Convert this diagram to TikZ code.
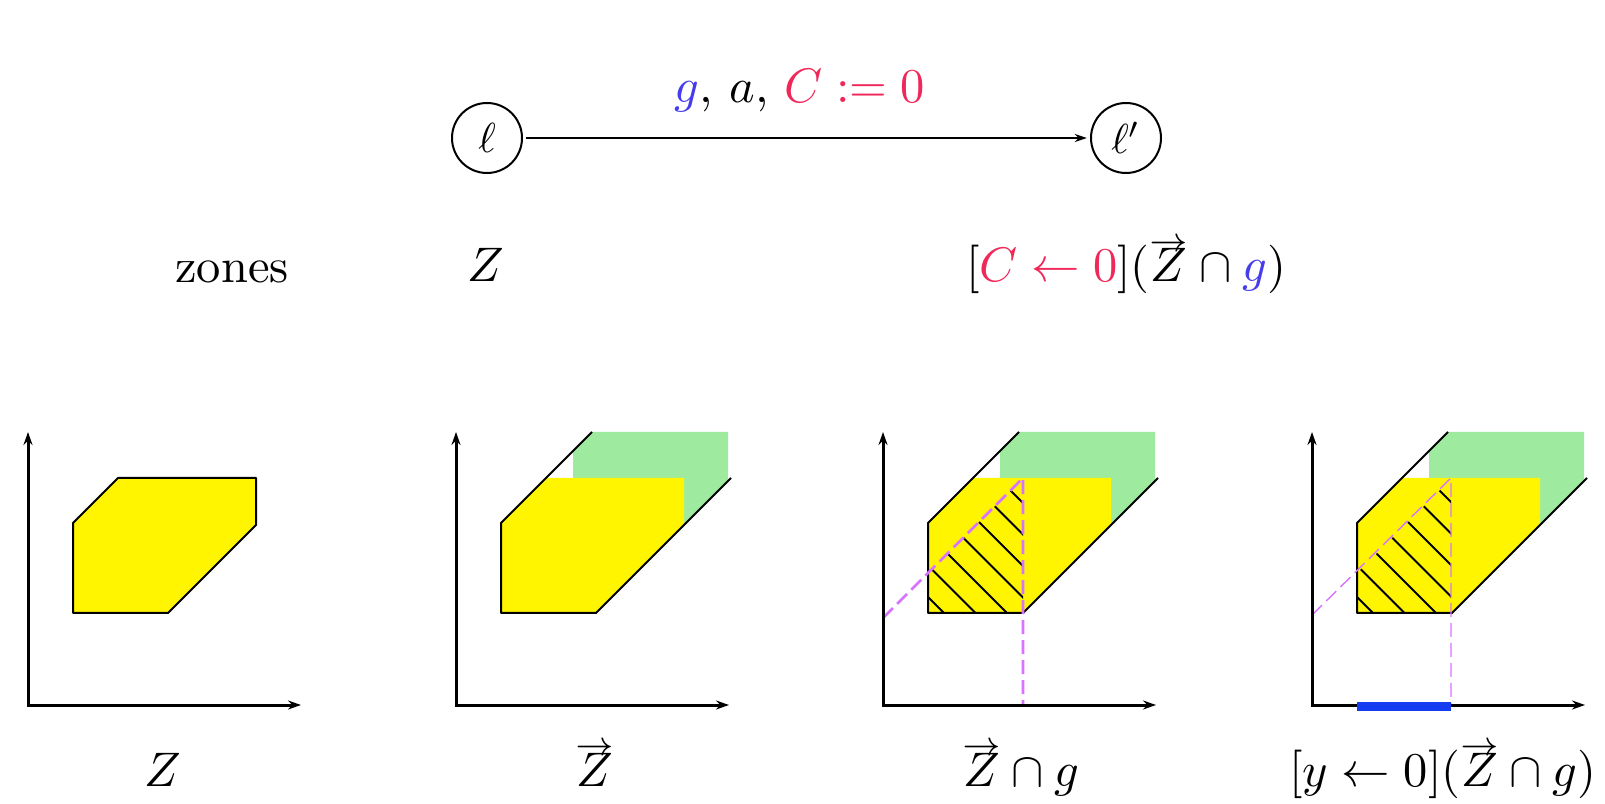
\RequirePackage{fix-cm}
\documentclass[tikz,border=0pt]{standalone}
\usetikzlibrary{arrows.meta}
\definecolor{zyel}{RGB}{255,245,0}
\definecolor{zgreen}{RGB}{158,235,160}
\definecolor{gmag}{RGB}{215,115,255}
\definecolor{gblue}{RGB}{70,60,235}
\definecolor{cred}{RGB}{240,40,90}
\definecolor{pblue}{RGB}{20,60,240}
\newcommand{\zvec}[1]{\mathord{\vbox{\offinterlineskip\ialign{\hfil##\hfil\cr$\scriptstyle\rightarrow$\cr\noalign{\kern-0.5pt}$#1$\cr}}}}
\begin{document}
\begin{tikzpicture}[x=1pt,y=1pt,
  every node/.style={font=\fontsize{10}{12}\selectfont,scale=4.85},
  axes/.style={line width=3pt,line join=miter,{Stealth[length=13pt,width=9pt]}-{Stealth[length=13pt,width=9pt]}},
  edgeline/.style={line width=2pt,line join=round},
  guard/.style={draw=gmag,line width=2.6pt,dash pattern=on 14pt off 6pt},
  guardthin/.style={draw=gmag,line width=1.4pt,dash pattern=on 14pt off 6pt},
  hatch/.style={line width=2pt},
  loc/.style={circle,draw,line width=2pt,scale=4.2/4.85,minimum size=70pt/4.2,inner sep=0pt},
  lbl/.style={anchor=base}]
\useasboundingbox (0,0) rectangle (1605,803);

% automaton edge
\node[loc] (l) at (487,665) {$\ell$};
\node[loc] (lp) at (1126,665) {$\ell'$};
\draw[line width=2pt,-{Stealth[length=12pt,width=8pt]}] (l) -- (lp);
\node[lbl] (elab) at (800,700) {$\textcolor{gblue}{g}$, $a$, $\textcolor{cred}{C:=0}$};

% second row
\node[lbl] (zones) at (232,520) {zones};
\node[lbl] (zl) at (486,521) {$Z$};
\node[lbl] (zr) at (1126,521) {$[\textcolor{cred}{C\leftarrow 0}](\zvec{Z}\cap \textcolor{gblue}{g})$};

% panel 1
\begin{scope}[shift={(28,98)}]
  \filldraw[fill=zyel,edgeline] (45,92)--(45,182)--(90,227)--(228,227)--(228,180)--(140,92)--cycle;
  \draw[axes] (0,273)--(0,0)--(273,0);
\end{scope}
\node[lbl] (p1) at (163,17) {$Z$};

% panel 2
\begin{scope}[shift={(456,98)}]
  \fill[zgreen] (117,227)--(117,254)--(136,273)--(272,273)--(272,224)--(228,180)--(228,227)--cycle;
  \fill[zyel] (45,92)--(45,182)--(90,227)--(228,227)--(228,180)--(140,92)--cycle;
  \draw[edgeline] (136,273)--(45,182)--(45,92)--(140,92)--(275,227);
  \draw[axes] (0,273)--(0,0)--(273,0);
\end{scope}
\node[lbl] (p2) at (595,17) {$\zvec{Z}$};

% panel 3
\begin{scope}[shift={(883,98)}]
  \fill[zgreen] (117,227)--(117,254)--(136,273)--(272,273)--(272,224)--(228,180)--(228,227)--cycle;
  \fill[zyel] (45,92)--(45,182)--(90,227)--(228,227)--(228,180)--(140,92)--cycle;
  \begin{scope}
    \clip (45,92)--(45,132)--(140,227)--(140,92)--cycle;
    \foreach \c in {153,184.5,...,343} \draw[hatch] ({\c-260},260)--({\c+10},-10);
  \end{scope}
  \draw[edgeline] (136,273)--(45,182)--(45,92)--(140,92)--(275,227);
  \draw[guard] (0,87)--(140,227)--(140,0);
  \draw[axes] (0,273)--(0,0)--(273,0);
\end{scope}
\node[lbl] (p3) at (1021,17) {$\zvec{Z}\cap g$};

% panel 4
\begin{scope}[shift={(1312,98)}]
  \fill[zgreen] (117,227)--(117,254)--(136,273)--(272,273)--(272,224)--(228,180)--(228,227)--cycle;
  \fill[zyel] (45,92)--(45,182)--(90,227)--(228,227)--(228,180)--(140,92)--cycle;
  \begin{scope}
    \clip (45,92)--(45,132)--(139,226)--(139,92)--cycle;
    \foreach \c in {153,184.5,...,343} \draw[hatch] ({\c-260},260)--({\c+10},-10);
  \end{scope}
  \draw[edgeline] (136,273)--(45,182)--(45,92)--(140,92)--(275,227);
  \draw[guardthin] (0,90)--(139,227)--(139,0);
  \draw[axes] (0,273)--(0,0)--(273,0);
  \draw[pblue,line width=9pt] (45,-1)--(139,-1);
\end{scope}
\node[lbl] (p4) at (1443,17) {$[y\leftarrow 0](\zvec{Z}\cap g)$};
\end{tikzpicture}
\end{document}
